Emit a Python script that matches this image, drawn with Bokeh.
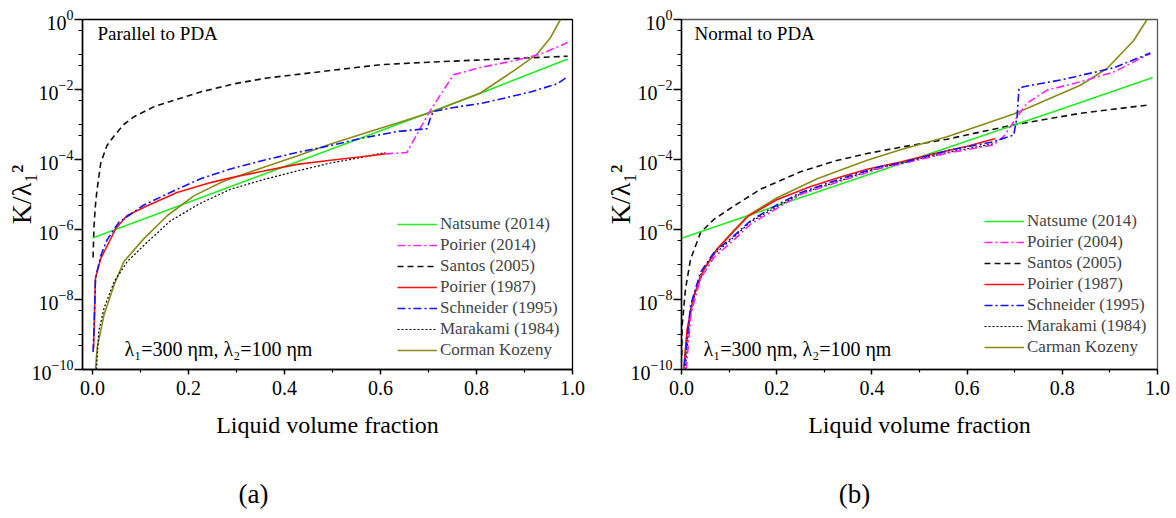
import numpy as np
from bokeh.plotting import figure
from bokeh.layouts import row, column
from bokeh.models import (Range1d, FixedTicker, Legend, LegendItem, Label,
                          LogTickFormatter, PrintfTickFormatter)
from bokeh.embed import file_html
from bokeh.resources import INLINE

FONT = "Liberation Serif"

# ---------------- panel (a): parallel to PDA (x = liquid fraction, values = log10 K/lambda1^2)
a_natsume_x = [0.0, 0.2, 0.4, 0.6, 0.8, 0.99]
a_natsume_lg = [-6.24, -5.22, -4.20, -3.18, -2.15, -1.13]

a_poirier14_x = [0.61, 0.655, 0.70, 0.752, 0.808, 0.878, 0.933, 0.99]
a_poirier14_lg = [-3.84, -3.80, -2.68, -1.58, -1.37, -1.18, -0.99, -0.66]

a_santos_x = [0.001, 0.003, 0.006, 0.009, 0.017, 0.03, 0.044, 0.065, 0.086, 0.128, 0.169,
              0.225, 0.294, 0.364, 0.433, 0.5, 0.6, 0.7, 0.8, 0.9, 0.99]
a_santos_lg = [-6.8, -5.9, -5.3, -4.9, -4.1, -3.6, -3.34, -3.0, -2.78, -2.49, -2.31,
               -2.07, -1.84, -1.67, -1.56, -1.45, -1.29, -1.22, -1.16, -1.10, -1.05]

a_poirier87_x = [0.002, 0.003, 0.006, 0.017, 0.031, 0.048, 0.072, 0.114, 0.176, 0.246,
                 0.2875, 0.357, 0.426, 0.496, 0.56, 0.61]
a_poirier87_lg = [-9.4, -8.9, -7.39, -6.83, -6.45, -5.98, -5.6, -5.32, -4.94, -4.66,
                  -4.52, -4.33, -4.14, -4.02, -3.92, -3.84]

a_schneider_x = [0.001, 0.003, 0.006, 0.017, 0.03, 0.055, 0.107, 0.176, 0.225, 0.2875,
                 0.357, 0.426, 0.496, 0.565, 0.635, 0.697, 0.703, 0.71, 0.75, 0.808,
                 0.86, 0.9125, 0.968, 0.99]
a_schneider_lg = [-9.5, -8.9, -7.4, -6.75, -6.3, -5.79, -5.3, -4.85, -4.55, -4.27,
                  -4.02, -3.80, -3.60, -3.38, -3.20, -3.12, -2.85, -2.63, -2.52, -2.40,
                  -2.24, -2.07, -1.84, -1.63]

a_marakami_x = [0.008, 0.013, 0.024, 0.045, 0.072, 0.114, 0.1625, 0.225, 0.2875, 0.357,
                0.426, 0.496, 0.565, 0.61]
a_marakami_lg = [-10.0, -8.9, -8.24, -7.49, -6.92, -6.36, -5.75, -5.25, -4.85, -4.57,
                 -4.33, -4.10, -3.93, -3.80]

a_kozeny_x = [0.006, 0.0097, 0.024, 0.045, 0.065, 0.107, 0.156, 0.211, 0.273, 0.357,
              0.426, 0.496, 0.565, 0.635, 0.704, 0.808, 0.878, 0.926, 0.954, 0.975]
a_kozeny_lg = [-10.0, -9.37, -8.43, -7.58, -6.92, -6.26, -5.6, -5.04, -4.62, -4.22,
               -3.90, -3.56, -3.26, -2.96, -2.66, -2.10, -1.46, -0.99, -0.52, 0.0]

# ---------------- panel (b): normal to PDA
b_natsume_x = [0.0, 0.2, 0.4, 0.6, 0.8, 0.99]
b_natsume_lg = [-6.25, -5.32, -4.40, -3.47, -2.55, -1.66]

b_poirier04_x = [0.01, 0.02, 0.04, 0.068, 0.11, 0.145, 0.2, 0.25, 0.334, 0.418, 0.46,
                 0.558, 0.656, 0.677, 0.698, 0.726, 0.768, 0.838, 0.908, 0.985]
b_poirier04_lg = [-10.0, -8.4, -7.4, -6.8, -6.3, -5.85, -5.4, -5.0, -4.62, -4.25, -4.13,
                  -3.82, -3.58, -3.34, -2.92, -2.39, -2.02, -1.78, -1.50, -0.97]

b_santos_x = [0.0005, 0.0014, 0.0084, 0.019, 0.04, 0.068, 0.11, 0.166, 0.208, 0.25,
              0.32, 0.39, 0.46, 0.558, 0.698, 0.838, 0.982]
b_santos_lg = [-9.6, -8.74, -7.7, -6.85, -6.09, -5.71, -5.33, -4.85, -4.6, -4.35,
               -4.05, -3.83, -3.65, -3.42, -3.01, -2.68, -2.44]

b_poirier87_x = [0.005, 0.012, 0.026, 0.047, 0.075, 0.11, 0.14, 0.2, 0.27, 0.334, 0.39,
                 0.46, 0.523, 0.6, 0.66]
b_poirier87_lg = [-9.95, -8.84, -7.89, -7.13, -6.56, -6.05, -5.62, -5.15, -4.78, -4.5,
                  -4.28, -4.07, -3.86, -3.62, -3.40]

b_schneider_x = [0.006, 0.019, 0.04, 0.068, 0.11, 0.145, 0.2, 0.25, 0.334, 0.418, 0.46,
                 0.558, 0.656, 0.698, 0.705, 0.709, 0.719, 0.803, 0.908, 0.985]
b_schneider_lg = [-9.9, -8.17, -7.22, -6.66, -6.18, -5.75, -5.3, -4.95, -4.55, -4.2,
                  -4.1, -3.75, -3.49, -3.30, -2.78, -1.97, -1.92, -1.71, -1.38, -0.96]

b_marakami_x = [0.008, 0.019, 0.04, 0.068, 0.11, 0.145, 0.2, 0.25, 0.334, 0.418, 0.46,
                0.558, 0.656]
b_marakami_lg = [-10.0, -8.3, -7.3, -6.72, -6.22, -5.78, -5.35, -4.98, -4.6, -4.22,
                 -4.11, -3.8, -3.55]

b_kozeny_x = [0.005, 0.012, 0.026, 0.047, 0.075, 0.11, 0.14, 0.2, 0.285, 0.39, 0.46,
              0.558, 0.698, 0.838, 0.894, 0.95, 0.978]
b_kozeny_lg = [-10.0, -8.9, -7.9, -7.15, -6.55, -6.02, -5.6, -5.1, -4.55, -4.02, -3.72,
               -3.35, -2.70, -1.88, -1.40, -0.60, 0.0]

# ---------------- labels
x_ticks = [0.0, 0.2, 0.4, 0.6, 0.8, 1.0]
y_tick_exps = [-10, -8, -6, -4, -2, 0]
y_label = "K/λ₁²"
x_label = "Liquid volume fraction"
lambda_text = "λ₁=300 ηm, λ₂=100 ηm"
panel_tags = ["(a)", "(b)"]

# series styles: (name in panel a, name in panel b, color, dash, width)
styles = [
    ("Natsume (2014)", "Natsume (2014)", "#22ee22", "solid", 1.6),
    ("Poirier (2014)", "Poirier (2004)", "#ff22ff", "8 3 2 3", 1.6),
    ("Santos (2005)", "Santos (2005)", "#111111", "6 4", 1.6),
    ("Poirier (1987)", "Poirier (1987)", "#ff1111", "solid", 1.6),
    ("Schneider (1995)", "Schneider (1995)", "#1111ff", "8 3 2 3", 1.6),
    ("Marakami (1984)", "Marakami (1984)", "#000000", "2 2", 1.2),
    ("Corman Kozeny", "Carman Kozeny", "#8a8a18", "solid", 1.6),
]

a_series = [(a_natsume_x, a_natsume_lg), (a_poirier14_x, a_poirier14_lg),
            (a_santos_x, a_santos_lg), (a_poirier87_x, a_poirier87_lg),
            (a_schneider_x, a_schneider_lg), (a_marakami_x, a_marakami_lg),
            (a_kozeny_x, a_kozeny_lg)]
b_series = [(b_natsume_x, b_natsume_lg), (b_poirier04_x, b_poirier04_lg),
            (b_santos_x, b_santos_lg), (b_poirier87_x, b_poirier87_lg),
            (b_schneider_x, b_schneider_lg), (b_marakami_x, b_marakami_lg),
            (b_kozeny_x, b_kozeny_lg)]

# draw order: later entries sit on top
draw_order = [2, 0, 6, 5, 3, 1, 4]

PANEL_H = 470


def make_panel(series, name_idx, width, border, x_start, corner_text,
               legend_loc, outline_color):
    left, right, top, bottom = border
    p = figure(width=width, height=PANEL_H, x_range=Range1d(x_start, 1.0),
               y_range=Range1d(1e-10, 1.0), y_axis_type="log",
               output_backend="svg", toolbar_location=None,
               min_border_left=left, min_border_right=right,
               min_border_top=top, min_border_bottom=bottom)
    p.xgrid.visible = False
    p.ygrid.visible = False
    p.outline_line_color = outline_color
    p.outline_line_width = 1.3
    p.background_fill_color = "white"
    p.border_fill_color = "white"

    renderers = {}
    for i in draw_order:
        xs, lg = series[i]
        name, name_b, color, dash, lw = styles[i]
        r = p.line(xs, 10.0 ** np.array(lg), line_color=color, line_width=lw,
                   line_dash=dash)
        renderers[i] = r

    items = [LegendItem(label=styles[i][name_idx], renderers=[renderers[i]])
             for i in range(len(styles))]
    legend = Legend(items=items, location=legend_loc, background_fill_alpha=0,
                    border_line_alpha=0, label_text_font=FONT,
                    label_text_font_size="17px", glyph_width=40, glyph_height=20,
                    label_height=20, spacing=1, padding=0, margin=0,
                    label_standoff=3)
    p.add_layout(legend)

    # x axis
    xa = p.xaxis[0]
    xa.ticker = FixedTicker(ticks=x_ticks, minor_ticks=[0.1, 0.3, 0.5, 0.7, 0.9])
    xa.formatter = PrintfTickFormatter(format="%.1f")
    xa.axis_label = x_label
    # y axis
    ya = p.yaxis[0]
    minor = []
    for e in range(-10, 1):
        if e % 2:
            minor.append(10.0 ** e)
        if e > -10:
            minor.append(5 * 10.0 ** (e - 1))
    ya.ticker = FixedTicker(ticks=[10.0 ** e for e in y_tick_exps], minor_ticks=minor)
    ya.formatter = LogTickFormatter()
    ya.axis_label = y_label

    for ax in (xa, ya):
        ax.axis_line_color = "black"
        ax.axis_line_width = 1.5
        ax.major_tick_line_color = "black"
        ax.major_tick_line_width = 1.5
        ax.minor_tick_line_color = "black"
        ax.minor_tick_line_width = 1.2
        ax.major_tick_in = 0
        ax.minor_tick_in = 0
        ax.major_label_text_font = FONT
        ax.major_label_text_font_size = "20px"
        ax.major_label_text_color = "black"
        ax.axis_label_text_font = FONT
        ax.axis_label_text_font_style = "normal"
        ax.axis_label_text_color = "black"
    xa.axis_label_text_font_size = "24px"
    ya.axis_label_text_font_size = "28px"
    xa.major_tick_out = 5
    xa.minor_tick_out = 3
    xa.major_label_standoff = 6
    xa.axis_label_standoff = 14
    ya.major_tick_out = 8
    ya.minor_tick_out = 4
    ya.major_label_standoff = 1
    ya.axis_label_standoff = -8

    txt = dict(x_units="screen", y_units="screen", text_font=FONT,
               text_color="black", text_baseline="middle")
    p.add_layout(Label(x=corner_text[0], y=corner_text[1], text=corner_text[2],
                       text_font_size="19px", **txt))
    p.add_layout(Label(x=corner_text[3], y=corner_text[4], text=lambda_text,
                       text_font_size="20px", **txt))
    return p


pa = make_panel(a_series, 0, 600, (82, 28, 15, PANEL_H - 15 - 354), -0.021,
                (15, 336, "Parallel to PDA", 42, 21), (315, 9), "black")
pb = make_panel(b_series, 1, 576, (81, 19, 19, PANEL_H - 19 - 352), 0.0,
                (13, 336, "Normal to PDA", 22, 21), (303, 12), "#555555")

# strip underneath the two panels holding the panel tags
STRIP_H = 518 - PANEL_H
strip = figure(width=1176, height=STRIP_H, x_range=Range1d(0, 1176),
               y_range=Range1d(0, STRIP_H), output_backend="svg",
               toolbar_location=None, min_border=0)
strip.axis.visible = False
strip.xgrid.visible = False
strip.ygrid.visible = False
strip.outline_line_color = None
for tag, cx in zip(panel_tags, (253, 854)):
    strip.add_layout(Label(x=cx, y=STRIP_H - 23, x_units="screen", y_units="screen",
                           text=tag, text_font=FONT, text_font_size="27px",
                           text_color="black", text_align="center",
                           text_baseline="middle"))

layout = column(row(pa, pb), strip)
open("out.html", "w").write(file_html(layout, INLINE))
